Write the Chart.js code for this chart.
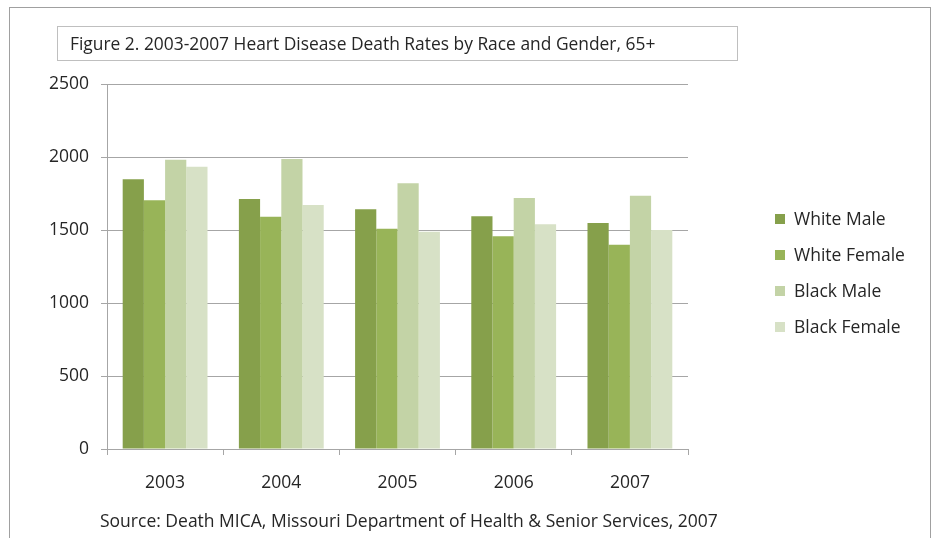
<!DOCTYPE html>
<html>
<head>
<meta charset="utf-8">
<script src="https://cdn.jsdelivr.net/npm/chart.js@4"></script>
<style>
  html, body { margin: 0; padding: 0; background: #fff; }
  #wrap { width: 933px; height: 538px; }
</style>
</head>
<body>
<div id="wrap"><canvas id="heartChart" width="933" height="538"></canvas></div>
<script>
/* ── Data ── */
const years        = ['2003', '2004', '2005', '2006', '2007'];
const whiteMale    = [1847, 1712, 1642, 1594, 1548];
const whiteFemale  = [1703, 1591, 1509, 1457, 1399];
const blackMale    = [1981, 1986, 1820, 1719, 1735];
const blackFemale  = [1934, 1671, 1488, 1539, 1500];
const seriesNames  = ['White Male', 'White Female', 'Black Male', 'Black Female'];
const yTicks       = [0, 500, 1000, 1500, 2000, 2500];

const titleText  = 'Figure 2. 2003-2007 Heart Disease Death Rates by Race and Gender, 65+';
const sourceText = 'Source: Death MICA, Missouri Department of Health & Senior Services, 2007';

/* ── Style ── */
const FONT     = "'Open Sans', sans-serif";
const TEXT_CLR = '#262626';
const GRID_CLR = '#a6a6a6';
const colors   = ['#86a04b', '#98b458', '#c3d3a6', '#d7e1c6'];

/* ── Frame, title box, source line, legend ── */
const decorations = {
  id: 'decorations',
  afterDraw(chart) {
    const ctx = chart.ctx;
    ctx.save();

    // outer frame
    ctx.strokeStyle = '#a0a0a0';
    ctx.lineWidth = 1;
    ctx.strokeRect(9.5, 7.5, 921, 560);

    // title box
    ctx.strokeStyle = '#bfbfbf';
    ctx.strokeRect(57.5, 26.5, 680, 34);
    ctx.fillStyle = TEXT_CLR;
    ctx.font = `17.4px ${FONT}`;
    ctx.textBaseline = 'middle';
    ctx.textAlign = 'left';
    ctx.fillText(titleText, 70, 45);

    // source
    ctx.font = `17.5px ${FONT}`;
    ctx.fillText(sourceText, 100, 522);

    // legend
    ctx.font = `17.5px ${FONT}`;
    chart.data.datasets.forEach((ds, i) => {
      const y = 219 + i * 36;
      ctx.fillStyle = ds.backgroundColor;
      ctx.fillRect(775, y - 5, 10, 10);
      ctx.fillStyle = TEXT_CLR;
      ctx.fillText(ds.label, 794, y + 1.5);
    });

    ctx.restore();
  }
};

const seriesData = [whiteMale, whiteFemale, blackMale, blackFemale];

new Chart(document.getElementById('heartChart'), {
  type: 'bar',
  data: {
    labels: years,
    datasets: seriesData.map((d, i) => ({
      label: seriesNames[i],
      data: d,
      backgroundColor: colors[i],
      borderWidth: 0,
      categoryPercentage: 0.73,
      barPercentage: 1.0
    }))
  },
  options: {
    responsive: false,
    animation: false,
    layout: { padding: { left: 0, top: 84, right: 245, bottom: 39 } },
    plugins: {
      legend: { display: false },
      tooltip: { enabled: false }
    },
    scales: {
      x: {
        grid: {
          drawOnChartArea: false,
          drawTicks: true,
          tickLength: 6,
          tickColor: GRID_CLR,
          color: GRID_CLR
        },
        border: { display: true, color: GRID_CLR },
        ticks: { font: { family: FONT, size: 17.5 }, color: TEXT_CLR, padding: 18 },
        afterFit(scale) { scale.height = 50; }
      },
      y: {
        min: yTicks[0],
        max: yTicks[yTicks.length - 1],
        afterBuildTicks(scale) { scale.ticks = yTicks.map(v => ({ value: v })); },
        grid: { color: GRID_CLR, tickLength: 6, tickColor: GRID_CLR },
        border: { display: true, color: GRID_CLR },
        ticks: {
          font: { family: FONT, size: 17.5 },
          color: TEXT_CLR,
          padding: 12,
          callback: v => String(v)
        },
        afterFit(scale) { scale.width = 107; }
      }
    }
  },
  plugins: [decorations]
});
</script>
</body>
</html>
